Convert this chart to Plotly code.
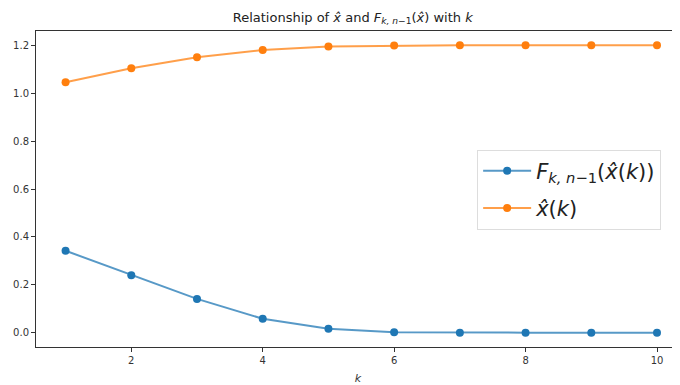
import plotly.graph_objects as go

k = [1, 2, 3, 4, 5, 6, 7, 8, 9, 10]
F_vals = [0.342, 0.240, 0.141, 0.058, 0.016, 0.002, 0.0, 0.0, 0.0, 0.0]
xhat_vals = [1.046, 1.104, 1.150, 1.181, 1.195, 1.199, 1.200, 1.200, 1.200, 1.200]
x_ticks = [2, 4, 6, 8, 10]
y_ticks = [0.0, 0.2, 0.4, 0.6, 0.8, 1.0, 1.2]

blue = "#1f77b4"
orange = "#ff7f0e"

fig = go.Figure()
fig.add_trace(go.Scatter(
    x=k, y=F_vals, mode="lines+markers", legendgroup="a",
    name="<i>F</i><sub><i>k, n</i>−1</sub>(<i>x̂</i>(<i>k</i>))",
    line=dict(color="rgba(31,119,180,0.75)", width=2),
    marker=dict(color=blue, size=8),
))
fig.add_trace(go.Scatter(
    x=k, y=xhat_vals, mode="lines+markers", legendgroup="b",
    name="<i>x̂</i>(<i>k</i>)",
    line=dict(color="rgba(255,127,14,0.75)", width=2),
    marker=dict(color=orange, size=8),
))

axis_common = dict(
    showgrid=False, zeroline=False, showline=True, linecolor="#333333", linewidth=1,
    mirror=True, ticks="outside", ticklen=4, tickcolor="#333333",
    tickfont=dict(family="DejaVu Sans", size=10, color="#333333"),
    automargin=False,
)
fig.update_xaxes(range=[0.55, 10.35], tickvals=x_ticks,
                 title=dict(text="<i>k</i>", font=dict(family="DejaVu Sans", size=11, color="#333333"), standoff=9),
                 **axis_common)
fig.update_yaxes(range=[-0.06, 1.26], tickvals=y_ticks, tickformat=".1f", **axis_common)

fig.update_layout(
    width=672, height=377,
    margin=dict(l=28, r=0, t=23, b=38),
    paper_bgcolor="white", plot_bgcolor="white",
    title=dict(text="Relationship of <i>x̂</i> and <i>F</i><sub><i>k, n</i>−1</sub>(<i>x̂</i>) with <i>k</i>",
               x=0.513, xanchor="center", y=0.976, yanchor="middle",
               font=dict(family="DejaVu Sans", size=13, color="#222222")),
    legend=dict(x=0.685, y=0.625, xanchor="left", yanchor="top",
                bgcolor="rgba(255,255,255,0.8)", bordercolor="#dddddd", borderwidth=1,
                font=dict(family="DejaVu Sans", size=21, color="#222222"),
                itemwidth=48, tracegroupgap=7),
    showlegend=True,
)

fig.write_html("out.html")
